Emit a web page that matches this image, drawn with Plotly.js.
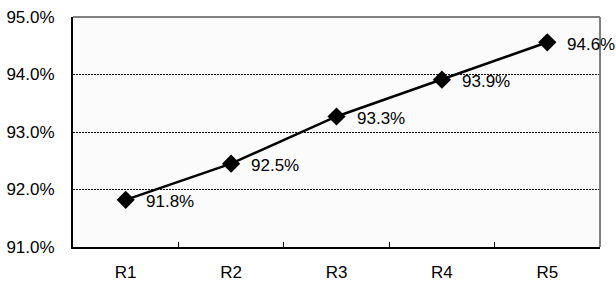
<!DOCTYPE html>
<html>
<head>
<script src="https://cdn.plot.ly/plotly-3.0.1.min.js"></script>
<style>html,body{margin:0;padding:0;background:#fff}</style>
</head>
<body>
<div id="chart" style="width:616px;height:285px"></div>
<script>
const categories = ["R1", "R2", "R3", "R4", "R5"];
const values = [91.82, 92.45, 93.27, 93.91, 94.56];
const labels = ["91.8%", "92.5%", "93.3%", "93.9%", "94.6%"];
const yTicks = [91, 92, 93, 94, 95];
const yTickText = ["91.0%", "92.0%", "93.0%", "94.0%", "95.0%"];

const fontFam = "Liberation Sans, Arial, sans-serif";

const trace = {
  x: categories, y: values, type: "scatter", mode: "lines+markers",
  line: {color: "#000", width: 2.5},
  marker: {symbol: "diamond", size: 14, color: "#000"},
  cliponaxis: false, hoverinfo: "none"
};

const annotations = categories.map((c, i) => ({
  x: c, y: values[i], text: labels[i], showarrow: false,
  xanchor: "left", yanchor: "middle", xshift: 18, yshift: -2,
  font: {family: fontFam, size: 17, color: "#000"}
}));

const layout = {
  width: 616, height: 285,
  margin: {l: 73, r: 16, t: 17, b: 38},
  paper_bgcolor: "#fff", plot_bgcolor: "#fbfbfb",
  showlegend: false,
  font: {family: fontFam, size: 17, color: "#000"},
  xaxis: {
    type: "category", range: [-0.5, 4.5], tickson: "boundaries", ticks: "inside", ticklen: 5,
    tickcolor: "#000", showline: true, linecolor: "#000", linewidth: 2,
    showgrid: false, zeroline: false, tickfont: {size: 17}, ticklabelstandoff: 9
  },
  yaxis: {
    range: [91, 95], tickmode: "array", tickvals: yTicks, ticktext: yTickText,
    showline: true, linecolor: "#000", linewidth: 2, ticks: "",
    showgrid: true, gridcolor: "#000", griddash: "2px,1px", gridwidth: 1,
    zeroline: false, tickfont: {size: 17}, ticklabelstandoff: 13
  },
  shapes: [
    {type: "line", xref: "paper", yref: "paper", x0: 0, x1: 1, y0: 1, y1: 1, line: {color: "#808080", width: 2}},
    {type: "line", xref: "paper", yref: "paper", x0: 1, x1: 1, y0: 0, y1: 1, line: {color: "#808080", width: 2}}
  ],
  annotations: annotations
};

Plotly.newPlot("chart", [trace], layout, {displayModeBar: false, staticPlot: true});
</script>
</body>
</html>
